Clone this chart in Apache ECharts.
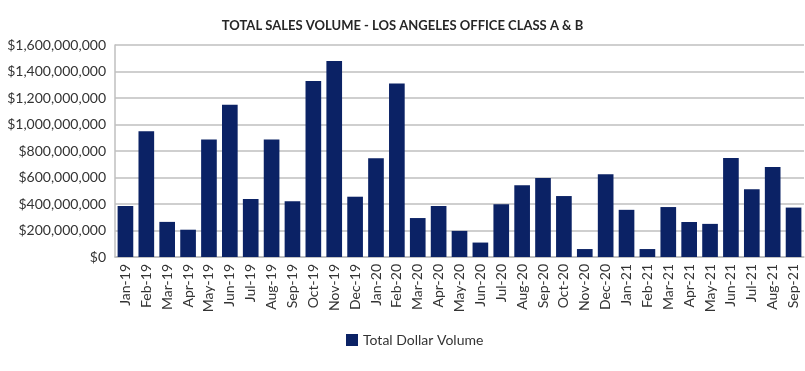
<!DOCTYPE html>
<html>
<head>
<meta charset="utf-8">
<script src="https://cdn.jsdelivr.net/npm/echarts@6/dist/echarts.min.js"></script>
<style>
  html, body { margin: 0; padding: 0; background: #ffffff; }
  #chart { width: 805px; height: 371px; }
</style>
</head>
<body>
<div id="chart"></div>
<script>
// Monthly closed office sales, Class A & B, Los Angeles
const months = [
  'Jan-19','Feb-19','Mar-19','Apr-19','May-19','Jun-19','Jul-19','Aug-19','Sep-19','Oct-19','Nov-19','Dec-19',
  'Jan-20','Feb-20','Mar-20','Apr-20','May-20','Jun-20','Jul-20','Aug-20','Sep-20','Oct-20','Nov-20','Dec-20',
  'Jan-21','Feb-21','Mar-21','Apr-21','May-21','Jun-21','Jul-21','Aug-21','Sep-21'
];
const dollarVolume = [
  385000000, 950000000, 265000000, 206000000, 886000000, 1150000000, 438000000, 886000000, 420000000, 1328000000, 1479000000, 455000000,
  745000000, 1309000000, 294000000, 385000000, 197000000, 109000000, 398000000, 542000000, 596000000, 460000000, 60000000, 624000000,
  356000000, 60000000, 377000000, 264000000, 250000000, 747000000, 511000000, 679000000, 373000000
];
const yTicks = { min: 0, max: 1600000000, interval: 200000000 };

const fmtDollar = v => '$' + Math.round(v).toString().replace(/\B(?=(\d{3})+(?!\d))/g, ',');

const chart = echarts.init(document.getElementById('chart'), null, { renderer: 'canvas' });
chart.setOption({
  animation: false,
  backgroundColor: '#ffffff',
  textStyle: { fontFamily: 'Lato' },
  title: {
    text: 'TOTAL SALES VOLUME - LOS ANGELES OFFICE CLASS A & B',
    left: 'center',
    top: 14,
    textStyle: { fontFamily: 'Lato', fontSize: 13, fontWeight: 'bold', color: '#262626' }
  },
  grid: { left: 115, right: 1, top: 45, height: 212 },
  legend: {
    bottom: 19,
    left: 341,
    icon: 'rect',
    itemWidth: 12,
    itemHeight: 12,
    itemGap: 6,
    textStyle: { fontFamily: 'Lato', fontSize: 14, color: '#333333' },
    data: ['Total Dollar Volume']
  },
  xAxis: {
    type: 'category',
    data: months,
    axisTick: { show: false },
    axisLine: { lineStyle: { color: '#bfbfbf', width: 1.5 } },
    axisLabel: { rotate: 90, fontSize: 14, color: '#333333', margin: 7, interval: 0 }
  },
  yAxis: {
    type: 'value',
    min: yTicks.min,
    max: yTicks.max,
    interval: yTicks.interval,
    axisLine: { show: true, lineStyle: { color: '#bfbfbf', width: 1.5 } },
    axisTick: { show: false },
    splitLine: { lineStyle: { color: '#bfbfbf', width: 1.5 } },
    axisLabel: { fontSize: 14, color: '#333333', margin: 9, formatter: fmtDollar }
  },
  series: [{
    name: 'Total Dollar Volume',
    type: 'bar',
    data: dollarVolume,
    barCategoryGap: '25%',
    itemStyle: { color: '#0b2265' }
  }]
});
</script>
</body>
</html>
